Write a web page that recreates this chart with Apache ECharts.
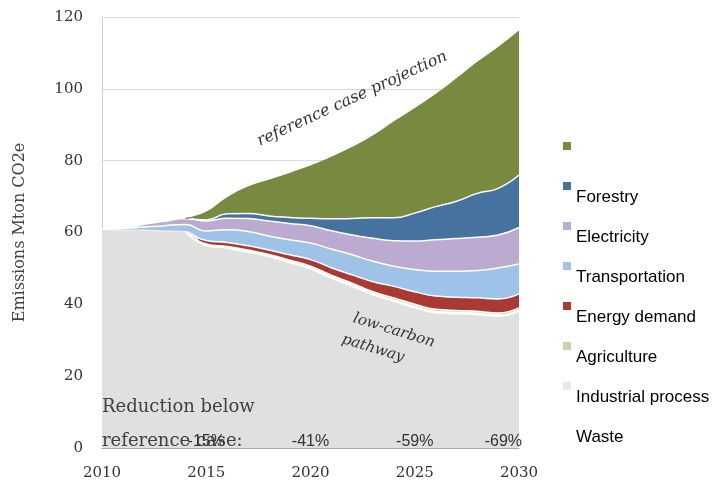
<!DOCTYPE html>
<html><head><meta charset="utf-8">
<script src="https://cdn.jsdelivr.net/npm/echarts@6/dist/echarts.min.js"></script>
<style>html,body{margin:0;padding:0;background:#fff}#c{width:721px;height:481px}</style>
</head><body><div id="c"></div>
<script>
const years = ['2010','2011','2012','2013','2014','2015','2016','2017','2018','2019','2020','2021','2022','2023','2024','2025','2026','2027','2028','2029','2030'];
const yTicks = { min: 0, max: 120, interval: 20 };
const lowCarbon      = [61.0, 60.6, 60.6, 60.4, 60.2, 56.3, 55.6, 54.5, 53.3, 51.6, 49.8, 47.2, 45.0, 42.6, 40.8, 39.0, 37.6, 37.3, 37.1, 36.6, 38.0];
const waste          = ['-','-','-','-',0, 0.1,0.1,0.1,0.1,0.1,0.1,0.1,0.1,0.1,0.1,0.1,0.1,0.1,0.1,0.1,0.1];
const industrial     = ['-','-','-','-',0, 0.2,0.2,0.2,0.2,0.2,0.3,0.3,0.3,0.3,0.3,0.3,0.3,0.3,0.3,0.3,0.3];
const agriculture    = ['-','-','-','-',0, 0.2,0.2,0.3,0.3,0.4,0.4,0.5,0.5,0.5,0.6,0.6,0.6,0.6,0.6,0.6,0.6];
const energyDemand   = ['-','-','-','-',0, 1.0,1.1,1.2,1.2,1.5,1.85,2.1,2.3,2.8,3.2,3.5,3.7,3.7,3.7,3.9,3.9];
const transportation = [0, 0.5, 0.9, 1.5, 2.0, 2.6, 3.6, 4.0, 3.9, 4.2, 4.6, 5.2, 5.6, 5.7, 5.6, 6.2, 6.9, 7.2, 7.6, 8.6, 8.3];
const electricity    = [0, 0, 0.8, 1.2, 1.7, 2.8, 3.2, 3.6, 4.2, 4.5, 4.8, 5.1, 5.5, 6.4, 7.1, 7.9, 8.8, 9.1, 9.3, 9.2, 10.2];
const forestry       = ['-','-','-','-',0, 0.3,1.2,1.4,1.4,1.7,2.1,3.3,4.6,5.7,6.4,7.8,9.2,10.4,12.2,13.0,14.6];
const referenceGap   = ['-','-','-','-',0, 2.1,4.4,7.3,9.9,12.2,14.5,17.1,19.7,22.7,26.6,29.0,31.1,34.0,36.4,39.1,40.0];
const reductionYears  = ['2015','2020','2025','2030'];
const reductionLabels = ['-15%','-41%','-59%','-69%'];
const legendNames = [' ', 'Forestry', 'Electricity', 'Transportation', 'Energy demand', 'Agriculture', 'Industrial process', 'Waste'];

const chart = echarts.init(document.getElementById('c'), null, {renderer:'canvas'});
const serif = 'DejaVu Serif';
function area(name, data, color, lineColor) {
  return {
    name, type: 'line', stack: 'total', data, smooth: 0.5,
    symbol: 'none', showSymbol: false,
    lineStyle: { color: lineColor || '#ffffff', width: 1.5 },
    areaStyle: { color: color, opacity: 1 },
    itemStyle: { color: color },
    emphasis: { disabled: true }
  };
}
const option = {
  animation: false,
  backgroundColor: '#fff',
  grid: { left: 102, right: 202, top: 17, bottom: 32, containLabel: false },
  legend: {
    orient: 'vertical', left: 563, top: 124, padding: 0, itemWidth: 8, itemHeight: 8, itemGap: -4,
    icon: 'rect', selectedMode: false,
    formatter: name => '\n' + name,
    textStyle: { fontFamily: 'Liberation Sans', fontSize: 17, color: '#000', lineHeight: 22 },
    data: legendNames
  },
  xAxis: {
    type: 'category', data: years, boundaryGap: false,
    axisLine: { show: true, lineStyle: { color: '#a8a8a8' } },
    axisTick: { show: false },
    axisLabel: { interval: 4, margin: 18, fontFamily: serif, fontSize: 15, color: '#333' },
    splitLine: { show: false }
  },
  yAxis: {
    type: 'value', min: yTicks.min, max: yTicks.max, interval: yTicks.interval,
    name: 'Emissions Mton CO2e', nameLocation: 'middle', nameGap: 74, nameRotate: 90,
    nameTextStyle: { fontFamily: serif, fontSize: 16, color: '#444' },
    axisLine: { show: true, lineStyle: { color: '#d0d0d0' } },
    axisTick: { show: false },
    axisLabel: { margin: 19, fontFamily: serif, fontSize: 15, color: '#333' },
    splitLine: { show: true, lineStyle: { color: '#d9d9d9', width: 1 } }
  },
  series: [
    area('Low-carbon pathway', lowCarbon, '#e0e0e0', '#e8efe0'),
    area('Waste', waste, '#ffffff'),
    area('Industrial process', industrial, '#e4ecdb'),
    area('Agriculture', agriculture, '#c4d7a5'),
    area('Energy demand', energyDemand, '#a93a33'),
    area('Transportation', transportation, '#9fc3e8'),
    area('Electricity', electricity, '#bcaad0'),
    area('Forestry', forestry, '#45729f'),
    area(' ', referenceGap, '#778a40', '#778a40')
  ]
};
chart.setOption(option);

const px = (yr, v) => chart.convertToPixel({ gridIndex: 0 }, [yr, v]);
const g = [];
const p1 = px(12.04, 97.2);
g.push({ type: 'text', x: p1[0], y: p1[1], rotation: 0.43, z: 100,
  style: { text: 'reference case projection', fontFamily: serif, fontStyle: 'italic', fontSize: 16, fill: '#333', align: 'center', verticalAlign: 'middle' } });
const p2a = px(13.91, 32.7);
g.push({ type: 'text', x: p2a[0], y: p2a[1], rotation: -0.3, z: 100,
  style: { text: 'low-carbon', fontFamily: serif, fontStyle: 'italic', fontSize: 15, fill: '#333', align: 'center', verticalAlign: 'middle' } });
const p2b = px(13.19, 27.7);
g.push({ type: 'text', x: p2b[0], y: p2b[1], rotation: -0.3, z: 100,
  style: { text: 'pathway', fontFamily: serif, fontStyle: 'italic', fontSize: 15, fill: '#333', align: 'center', verticalAlign: 'middle' } });
const p3 = px(0.05, 6.6);
g.push({ type: 'text', x: p3[0], y: p3[1], z: 100,
  style: { text: 'Reduction below\nreference case:', fontFamily: serif, fontSize: 18, lineHeight: 34, fill: '#404040', align: 'left', verticalAlign: 'middle' } });
reductionYears.forEach((yr, i) => {
  const idx = years.indexOf(yr);
  const last = i === reductionYears.length - 1;
  const p = px(idx, 1.9);
  g.push({ type: 'text', x: p[0] + (last ? 3 : 0), y: p[1], z: 100,
    style: { text: reductionLabels[i], fontFamily: 'Liberation Sans', fontSize: 16, fill: '#333', align: last ? 'right' : 'center', verticalAlign: 'middle' } });
});
chart.setOption({ graphic: g });
</script>
</body></html>
